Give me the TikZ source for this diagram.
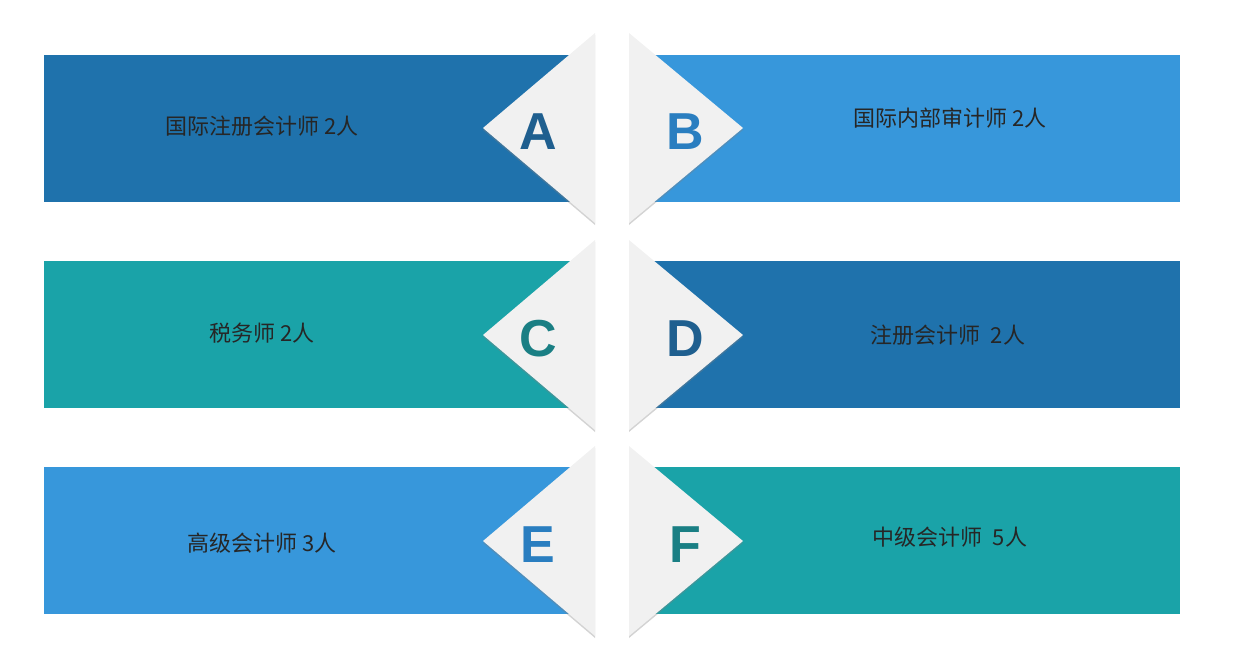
\documentclass[tikz,border=0pt]{standalone}
\usepackage{fontspec}
\setmainfont{Liberation Sans}
\newfontfamily\cjk{Noto Sans CJK SC}
\usetikzlibrary{shadows}
\definecolor{dblue}{HTML}{1F72AC}
\definecolor{lblue}{HTML}{3797DB}
\definecolor{teal2}{HTML}{1AA3A8}
\definecolor{tri}{HTML}{F1F1F1}
\definecolor{ldb}{HTML}{1F5F8F}
\definecolor{llb}{HTML}{2A7EC0}
\definecolor{ltl}{HTML}{1A7F84}
\begin{document}
\begin{tikzpicture}[x=1pt,y=-1pt,
  bar/.style={inner sep=0,minimum width=549,minimum height=147,anchor=north west},
  lab/.style={font=\cjk\fontsize{22}{24}\selectfont,text=black!85},
  let/.style={font=\bfseries\fontsize{52}{52}\selectfont},
  trishape/.style={fill=tri,drop shadow={shadow xshift=0pt,shadow yshift=-2pt,opacity=0.35}}]
\useasboundingbox (0,0) rectangle (1254,654);
\foreach \y/\cl/\cr [count=\i] in {55/dblue/lblue,261/teal2/dblue,467/lblue/teal2}{
  \node[bar,fill=\cl] (L\i) at (44,\y) {};
  \node[bar,fill=\cr] (R\i) at (631,\y) {};
}
\foreach \c [count=\i] in {128,335,541}{
  \path[trishape] (595,\c-95) -- (483,\c) -- (595,\c+95) -- cycle;
  \path[trishape] (629,\c-95) -- (743,\c) -- (629,\c+95) -- cycle;
}
\node[lab] (t1) at (262,126) {国际注册会计师 2人};
\node[lab] (t2) at (950,118) {国际内部审计师 2人};
\node[lab] (t3) at (262,333) {税务师 2人};
\node[lab] (t4) at (948,335) {注册会计师\ \ 2人};
\node[lab] (t5) at (262,543) {高级会计师 3人};
\node[lab] (t6) at (950,537) {中级会计师\ \ 5人};
\node[let,text=ldb] (A) at (538,132) {A};
\node[let,text=llb] (B) at (685,132) {B};
\node[let,text=ltl] (C) at (538,339) {C};
\node[let,text=ldb] (D) at (685,339) {D};
\node[let,text=llb] (E) at (538,545) {E};
\node[let,text=ltl] (F) at (685,545) {F};
\end{tikzpicture}
\end{document}
